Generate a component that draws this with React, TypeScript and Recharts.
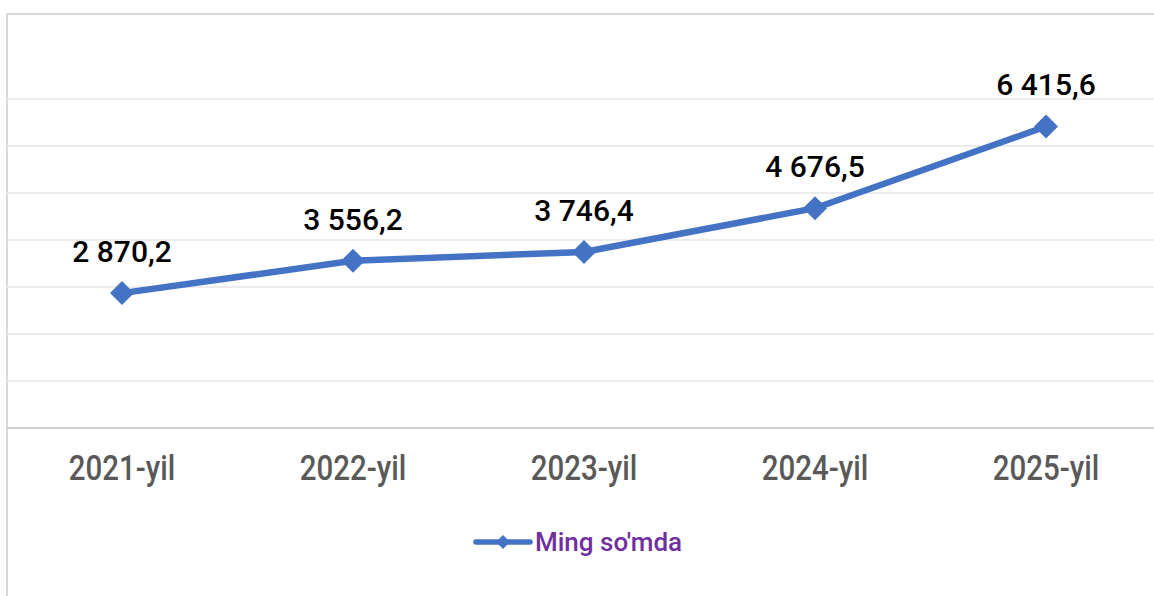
import { LineChart, Line, XAxis, YAxis, CartesianGrid, LabelList, Legend } from "recharts";

const years = ["2021-yil", "2022-yil", "2023-yil", "2024-yil", "2025-yil"];
const amounts = [2870.2, 3556.2, 3746.4, 4676.5, 6415.6];
const yTicks = [0, 1000, 2000, 3000, 4000, 5000, 6000, 7000];
const seriesName = "Ming so'mda";

const data = years.map((year, i) => ({ year, value: amounts[i] }));

const BLUE = "#4472C4";

// "2870.2" -> "2 870,2"
function fmt(v: number) {
  const [int, dec] = v.toFixed(1).split(".");
  return int.replace(/\B(?=(\d{3})+(?!\d))/g, " ") + "," + dec;
}

function Diamond(props: any) {
  const { cx, cy, index } = props;
  if (cx == null || cy == null) return null;
  const r = 12;
  return (
    <polygon
      key={`d-${index}`}
      points={`${cx},${cy - r} ${cx + r},${cy} ${cx},${cy + r} ${cx - r},${cy}`}
      fill={BLUE}
    />
  );
}

function YearTick(props: any) {
  const { x, y, payload } = props;
  return (
    <g transform={`translate(${x},${y + 52})`}>
      <text
        transform="scale(0.82,1)"
        textAnchor="middle"
        fontSize={36}
        fontWeight={500}
        fill="#595959"
        fontFamily="Roboto"
      >
        {payload.value}
      </text>
    </g>
  );
}

function ValueLabel(props: any) {
  const { x, y, value } = props;
  return (
    <text
      x={x}
      y={y - 31}
      textAnchor="middle"
      fontSize={30}
      fontWeight={500}
      fill="#000"
      fontFamily="Roboto"
    >
      {fmt(value)}
    </text>
  );
}

function LegendContent() {
  return (
    <div style={{ display: "flex", alignItems: "center", height: 30, fontFamily: "Roboto" }}>
      <svg width={60} height={20} style={{ marginRight: 2 }}>
        <line x1={3} y1={10} x2={57} y2={10} stroke={BLUE} strokeWidth={5.5} strokeLinecap="round" />
        <polygon points="30,3 37,10 30,17 23,10" fill={BLUE} />
      </svg>
      <span style={{ fontSize: 26, fontWeight: 500, color: "#7030A0" }}>{seriesName}</span>
    </div>
  );
}

export default function App() {
  return (
    <div
      style={{
        position: "absolute",
        left: 0,
        top: 0,
        width: 1154,
        height: 596,
        overflow: "hidden",
        background: "#fff",
      }}
    >
      <div
        style={{
          position: "absolute",
          left: 6,
          top: 13,
          width: 1200,
          height: 700,
          border: "2px solid #d9d9d9",
        }}
      />
      <div style={{ position: "absolute", left: 0, top: 0 }}>
        <LineChart
          width={1170}
          height={596}
          data={data}
          margin={{ top: 99, right: 8, left: 6, bottom: 108 }}
        >
          <CartesianGrid vertical={false} stroke="#e6e6e6" strokeWidth={1.5} />
          <XAxis
            dataKey="year"
            height={60}
            padding={{ left: 116, right: 116 }}
            tickLine={false}
            tickSize={0}
            tickMargin={0}
            axisLine={{ stroke: "#d0d0d0", strokeWidth: 2 }}
            tick={<YearTick />}
            interval={0}
          />
          <YAxis hide domain={[0, 7000]} ticks={yTicks} />
          <Legend
            verticalAlign="middle"
            align="center"
            content={<LegendContent />}
            wrapperStyle={{ left: 473, top: 527, width: "auto" }}
          />
          <Line
            type="linear"
            dataKey="value"
            name={seriesName}
            stroke={BLUE}
            strokeWidth={6.5}
            dot={Diamond}
            activeDot={false}
            isAnimationActive={false}
          >
            <LabelList dataKey="value" content={<ValueLabel />} />
          </Line>
        </LineChart>
      </div>
    </div>
  );
}
